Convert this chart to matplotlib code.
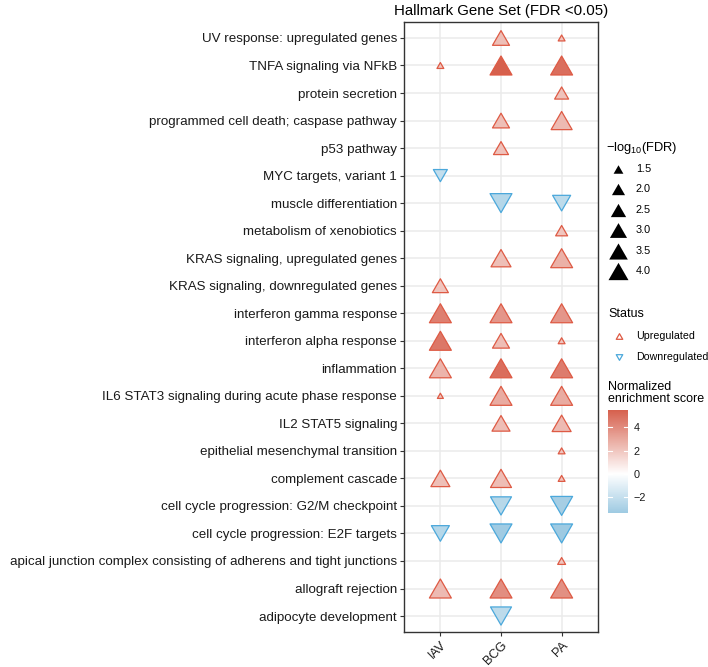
import numpy as np
import matplotlib
matplotlib.use('Agg')
import matplotlib.pyplot as plt
from matplotlib.colors import LinearSegmentedColormap, Normalize
from matplotlib.cm import ScalarMappable
from matplotlib.path import Path

plt.rcParams['font.family'] = ['Liberation Sans', 'DejaVu Sans']
plt.rcParams['mathtext.fontset'] = 'custom'
plt.rcParams['mathtext.rm'] = 'Liberation Sans'
plt.rcParams['mathtext.default'] = 'regular'

# pathways, top to bottom as shown
pathways = [
    'UV response: upregulated genes',
    'TNFA signaling via NFkB',
    'protein secretion',
    'programmed cell death; caspase pathway',
    'p53 pathway',
    'MYC targets, variant 1',
    'muscle differentiation',
    'metabolism of xenobiotics',
    'KRAS signaling, upregulated genes',
    'KRAS signaling, downregulated genes',
    'interferon gamma response',
    'interferon alpha response',
    'inflammation',
    'IL6 STAT3 signaling during acute phase response',
    'IL2 STAT5 signaling',
    'epithelial mesenchymal transition',
    'complement cascade',
    'cell cycle progression: G2/M checkpoint',
    'cell cycle progression: E2F targets',
    'apical junction complex consisting of adherens and tight junctions',
    'allograft rejection',
    'adipocyte development',
]
samples = ['IAV', 'BCG', 'PA']
nan = np.nan

# normalized enrichment score per sample
iav_nes = [nan, 2.0, nan, nan, nan, -2.1, nan, nan, nan, 2.0, 4.4,
           4.7, 2.6, 2.0, nan, nan, 2.2, nan, -2.6, nan, 2.4, nan]
bcg_nes = [2.2, 5.5, nan, 2.2, 2.1, nan, -2.6, nan, 2.2, nan, 3.6,
           2.3, 5.0, 2.9, 2.3, nan, 2.3, -2.5, -3.3, nan, 3.9, -2.3]
pa_nes = [2.0, 5.0, 2.1, 2.4, nan, nan, -2.3, 2.0, 2.7, nan, 3.6,
          2.0, 4.5, 2.9, 2.4, 2.0, 2.0, -3.1, -3.4, 2.0, 3.8, nan]

# -log10(FDR) per sample
iav_fdr = [nan, 1.31, nan, nan, nan, 2.18, nan, nan, nan, 2.68, 4.8,
           4.8, 4.8, 1.3, nan, nan, 3.63, nan, 3.29, nan, 4.8, nan]
bcg_fdr = [2.97, 4.8, nan, 2.97, 2.42, nan, 4.8, nan, 4.0, nan, 4.8,
           2.97, 4.8, 4.8, 3.29, nan, 4.4, 4.4, 4.8, nan, 4.8, 4.4]
pa_fdr = [1.31, 4.8, 2.18, 4.4, nan, nan, 3.29, 1.79, 4.8, nan, 4.8,
          1.31, 4.8, 4.8, 3.63, 1.31, 1.31, 4.8, 4.8, 1.35, 4.8, nan]

size_breaks = [1.5, 2.0, 2.5, 3.0, 3.5, 4.0]
nes_ticks = [-2, 0, 2, 4]
nes_lo, nes_hi = -3.4, 5.5

red_edge = '#DE5A44'
blue_edge = '#4BA8DB'

cmap = LinearSegmentedColormap.from_list(
    'nes', [(0.0, '#9ECAE2'), (-nes_lo / (nes_hi - nes_lo), '#FFFFFF'), (1.0, '#D6604D')])
norm = Normalize(nes_lo, nes_hi)

# closed triangles, bbox centred on the point, width == markersize
tri_up = Path([(0, 0.433), (-0.5, -0.433), (0.5, -0.433), (0, 0.433)], closed=True)
tri_down = Path([(0, -0.433), (-0.5, 0.433), (0.5, 0.433), (0, -0.433)], closed=True)


def marker_area(v):
    v = np.asarray(v, dtype=float)
    w = 6 + 16 * np.sqrt(np.clip((v - 1.3) / 3.53, 0, 1))  # width in px
    return (w * 0.72) ** 2


fig = plt.figure(figsize=(7.08, 6.67), dpi=100)
ax = fig.add_axes([404 / 708, 35 / 667, 194 / 708, 610 / 667])

n = len(pathways)
ypos = np.arange(n, 0, -1)

for j, (nes, fdr) in enumerate(zip([iav_nes, bcg_nes, pa_nes], [iav_fdr, bcg_fdr, pa_fdr])):
    nes = np.array(nes)
    fdr = np.array(fdr)
    ok = ~np.isnan(nes)
    up = ok & (nes > 0)
    dn = ok & (nes < 0)
    x = np.full(n, j + 1.0)
    ax.scatter(x[up], ypos[up], s=marker_area(fdr[up]), c=nes[up], cmap=cmap, norm=norm,
               marker=tri_up, edgecolors=red_edge, linewidths=0.9, zorder=3)
    ax.scatter(x[dn], ypos[dn], s=marker_area(fdr[dn]), c=nes[dn], cmap=cmap, norm=norm,
               marker=tri_down, edgecolors=blue_edge, linewidths=0.9, zorder=3)

ax.set_xlim(0.4, 3.6)
ax.set_ylim(0.42, n + 0.58)
ax.set_xticks([1, 2, 3])
ax.set_xticklabels(samples, rotation=45, ha='right', va='top', rotation_mode='anchor', fontsize=9.2)
ax.set_yticks(ypos)
ax.set_yticklabels(pathways, fontsize=9.6)
ax.tick_params(axis='y', length=3, width=0.8, color='#333333', labelcolor='#1a1a1a', pad=2)
ax.tick_params(axis='x', length=3, width=0.8, color='#333333', labelcolor='#1a1a1a', pad=2)
ax.grid(True, color='#EBEBEB', linewidth=1.1, zorder=0)
ax.set_axisbelow(True)
for sp in ax.spines.values():
    sp.set_color('#333333')
    sp.set_linewidth(1.0)
ax.set_title('Hallmark Gene Set (FDR <0.05)', fontsize=10.8, pad=5)

# legends (drawn in pixel space on an overlay)
lax = fig.add_axes([0, 0, 1, 1])
lax.set_xlim(0, 708)
lax.set_ylim(667, 0)
lax.axis('off')

lax.text(606, 148, '−log$_{10}$(FDR)', fontsize=9.3, va='center', ha='left')
for k, b in enumerate(size_breaks):
    yy = 169 + k * 20.4
    lax.scatter([618], [yy], s=marker_area([b]), c='black', marker=tri_up, linewidths=0)
    lax.text(636, yy, f'{b:.1f}', fontsize=7.8, va='center', ha='left')

lax.text(608, 314, 'Status', fontsize=9, va='center', ha='left')
small = (6.5 * 0.72) ** 2
lax.scatter([619], [336], s=small, c='white', marker=tri_up,
            edgecolors=red_edge, linewidths=0.9)
lax.text(636, 336, 'Upregulated', fontsize=7.7, va='center', ha='left')
lax.scatter([619], [357], s=small, c='white', marker=tri_down,
            edgecolors=blue_edge, linewidths=0.9)
lax.text(636, 357, 'Downregulated', fontsize=7.7, va='center', ha='left')

lax.text(608, 393, 'Normalized\nenrichment score', fontsize=9, va='center', ha='left',
         linespacing=1.0)

cax = fig.add_axes([608 / 708, (667 - 513) / 667, 20 / 708, 103 / 667])
cb = fig.colorbar(ScalarMappable(norm=norm, cmap=cmap), cax=cax, ticks=nes_ticks)
cb.outline.set_visible(False)
cax.tick_params(length=0, labelsize=7.8, pad=4, labelcolor='#1a1a1a')
for t in nes_ticks:
    cax.plot([0, 0.2], [t, t], color='white', lw=0.8)
    cax.plot([0.8, 1], [t, t], color='white', lw=0.8)

fig.savefig('out.png', dpi=100)
